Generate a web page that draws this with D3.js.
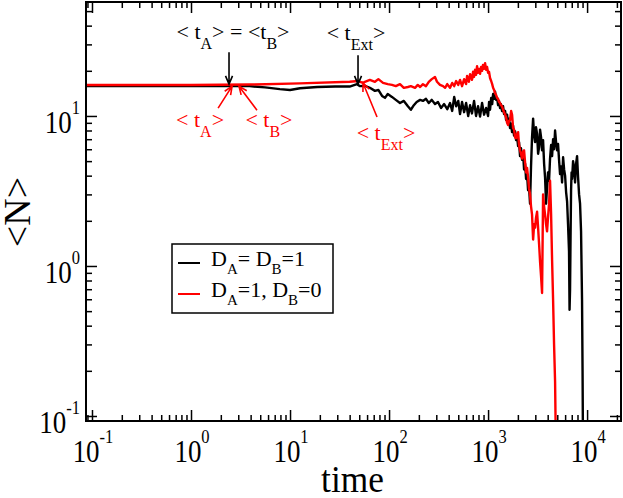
<!DOCTYPE html>
<html>
<head>
<meta charset="utf-8">
<script src="https://cdn.jsdelivr.net/npm/d3@7"></script>
<style>
html, body { margin: 0; padding: 0; background: #fff; overflow: hidden; }
</style>
</head>
<body>
<svg id="chart" width="623" height="498" font-family="Liberation Serif"></svg>
<script>
// series 1: D_A = D_B = 1 (black)
const timeBlack = [0.087, 1, 3.9, 5.6, 7.9, 10, 12.6, 18.8, 28.6, 40, 47.5, 51, 57, 64, 72, 78, 85, 91, 97,
  107, 117, 129, 141, 155, 166, 178, 190, 206, 220, 236, 252, 270, 291, 312, 335, 360, 387, 413, 434,
  455, 476, 500, 521, 546, 573, 600, 630, 658, 688, 722, 756, 792, 830, 870, 912, 955, 1000, 1024,
  1047, 1075, 1100, 1124, 1150, 1177, 1205, 1233, 1262, 1290, 1321, 1350, 1384, 1418, 1450, 1486,
  1520, 1556, 1592, 1630, 1667, 1710, 1747, 1790, 1830, 1875, 1918, 1963, 2010, 2055, 2104, 2150,
  2205, 2258, 2310, 2365, 2420, 2477, 2535, 2590, 2654, 2715, 2780, 2850, 2920, 2985, 3050, 3126,
  3200, 3275, 3350, 3430, 3510, 3593, 3680, 3763, 3850, 3941, 4030, 4130, 4226, 4330, 4430, 4536,
  4640, 4750, 4860, 4975, 5090, 5210, 5333, 5460, 5590, 5724, 5860, 5995, 6140, 6278, 6420, 6570,
  6650, 6730, 6810, 6890, 6970, 7050, 7220, 7390, 7560, 7740, 7920, 8110, 8300, 8490, 8690, 8890,
  9000, 9110];
const nBlack = [15.8, 15.8, 15.8, 15.5, 15.1, 14.9, 15.3, 15.6, 15.7, 15.7, 16.3, 15.8, 15.9, 15.4, 14.7, 14.9, 13.6, 13.2, 14.0,
  13.4, 12.8, 12.2, 12.6, 11.6, 11.0, 11.8, 12.4, 12.8, 12.6, 13.0, 12.2, 12.8, 12.0, 12.4, 11.3, 12.0, 11.1, 12.2, 10.8,
  13.4, 11.6, 12.6, 10.3, 12.4, 10.6, 12.2, 10.0, 11.8, 10.4, 12.6, 10.0, 11.6, 9.9, 12.2, 10.2, 11.3, 10.0, 12.4,
  11.0, 13.2, 12.0, 14.0, 13.0, 14.5, 12.8, 13.2, 11.8, 12.6, 11.3, 12.0, 10.8, 11.6, 10.3, 10.8,
  9.4, 10.2, 8.9, 9.6, 8.3, 8.9, 7.8, 8.6, 7.4, 7.9, 6.9, 7.3, 6.3, 6.7, 5.4, 6.1,
  5.1, 5.6, 4.4, 4.8, 3.8, 4.1, 3.2, 3.4, 2.6, 4.6, 7.2, 9.6, 7.4, 6.7, 8.4, 7.6,
  5.6, 6.2, 8.1, 7.2, 5.9, 6.9, 4.8, 3.9, 2.6, 3.3, 4.2, 3.7, 5.2, 6.4, 5.4, 7.0,
  6.0, 8.0, 6.7, 5.9, 6.5, 5.1, 4.1, 4.6, 3.6, 5.3, 4.4, 4.0, 3.1, 2.7, 1.9, 1.25,
  0.51, 0.7, 1.6, 3.2, 4.2, 3.8, 5.0, 4.5, 3.6, 4.8, 5.4, 3.9, 3.0, 2.6, 1.7, 0.6,
  0.2, 0.05];

// series 2: D_A = 1, D_B = 0 (red)
const timeRed = [0.087, 1, 3.9, 12.6, 40, 48.6, 54.6, 57, 64, 72, 78, 87, 97, 107, 117, 129, 141, 155,
  166, 183, 195, 206, 220, 236, 252, 270, 291, 305, 327, 351, 368, 387, 413, 434, 455, 476, 500, 521,
  546, 573, 600, 614, 640, 658, 688, 705, 722, 739, 756, 774, 792, 810, 830, 850, 870, 889, 912, 933,
  955, 977, 1000, 1022, 1047, 1075, 1100, 1124, 1150, 1177, 1205, 1233, 1262, 1290, 1321, 1350, 1384,
  1418, 1450, 1486, 1520, 1556, 1592, 1630, 1667, 1710, 1747, 1790, 1830, 1875, 1918, 1963, 2010,
  2055, 2104, 2150, 2205, 2258, 2310, 2365, 2420, 2477, 2535, 2590, 2654, 2715, 2780, 2850, 2920,
  2985, 3050, 3126, 3200, 3275, 3350, 3430, 3510, 3560, 3593, 3680, 3763, 3850, 3941, 4030, 4130,
  4226, 4330, 4430, 4536, 4640, 4750, 4860];
const nRed = [16.1, 16.1, 16.2, 16.5, 16.9, 17.1, 16.6, 16.9, 17.4, 16.9, 17.6, 16.6, 16.3, 16.1, 15.8, 16.3, 15.4, 15.6,
  15.8, 15.4, 16.1, 15.6, 16.3, 15.8, 16.9, 17.6, 18.2, 16.9, 16.1, 15.8, 15.4, 16.3, 15.4, 16.6, 15.8, 17.1, 16.1, 17.4,
  15.8, 17.6, 16.3, 18.5, 16.9, 19.0, 17.4, 19.7, 18.2, 20.3, 18.8, 21.5, 19.4, 20.6, 19.1, 21.2, 20.0, 21.9, 20.6, 22.5,
  20.3, 21.2, 19.4, 19.7, 17.9, 17.1, 16.3, 15.4, 14.9, 14.2, 13.8, 13.2, 13.0, 12.4, 12.2, 11.8, 11.6,
  11.0, 10.6, 10.2, 9.8, 9.0, 8.7, 9.3, 9.4, 10.8, 10.2, 8.3, 8.1, 7.2, 7.1, 7.6, 7.8,
  6.4, 5.9, 5.6, 5.2, 5.8, 5.9, 4.9, 4.2, 4.5, 3.9, 3.3, 3.0, 2.5, 2.2, 1.5, 1.9,
  1.8, 2.1, 2.3, 1.8, 1.4, 1.07, 0.85, 0.66, 1.6, 3.0, 2.5, 2.2, 1.9, 1.7, 2.1, 2.6,
  3.7, 2.2, 1.1, 0.59, 0.3, 0.17, 0.05];

const xTickExps = [-1, 0, 1, 2, 3, 4];
const yTickExps = [-1, 0, 1];
const xDomain = [0.087, 22000];
const yDomain = [0.0926, 57.5];

const FONT = 'Liberation Serif';
const svg = d3.select('#chart');
const plot = { left: 86, right: 621, top: 2, bottom: 421 };
const x = d3.scaleLog().domain(xDomain).range([plot.left, plot.right]);
const y = d3.scaleLog().domain(yDomain).range([plot.bottom, plot.top]);

function minorTicks(domain) {
    const out = [];
    const e0 = Math.floor(Math.log10(domain[0]));
    const e1 = Math.ceil(Math.log10(domain[1]));
    for (let e = e0; e <= e1; e++) {
        for (let k = 2; k < 10; k++) {
            const v = k * Math.pow(10, e);
            if (v >= domain[0] && v <= domain[1]) out.push(v);
        }
    }
    return out;
}
const xMajor = xTickExps.map(e => Math.pow(10, e));
const yMajor = yTickExps.map(e => Math.pow(10, e));

function tickAxis(axis, pos, vals, size) {
    svg.append('g')
        .attr('transform', pos)
        .call(axis.tickValues(vals).tickSize(-size).tickFormat(''))
        .call(g => g.select('.domain').remove())
        .call(g => g.selectAll('line').attr('stroke', '#000').attr('stroke-width', 1.5));
}
tickAxis(d3.axisBottom(x), `translate(0,${plot.bottom})`, minorTicks(xDomain), 6);
tickAxis(d3.axisBottom(x), `translate(0,${plot.bottom})`, xMajor, 11);
tickAxis(d3.axisTop(x), `translate(0,${plot.top})`, minorTicks(xDomain), 6);
tickAxis(d3.axisTop(x), `translate(0,${plot.top})`, xMajor, 11);
tickAxis(d3.axisLeft(y), `translate(${plot.left},0)`, minorTicks(yDomain), 6);
tickAxis(d3.axisLeft(y), `translate(${plot.left},0)`, yMajor, 11);
tickAxis(d3.axisRight(y), `translate(${plot.right},0)`, minorTicks(yDomain), 6);
tickAxis(d3.axisRight(y), `translate(${plot.right},0)`, yMajor, 11);

// curves
svg.append('clipPath').attr('id', 'clip')
    .append('rect')
    .attr('x', plot.left).attr('y', plot.top)
    .attr('width', plot.right - plot.left).attr('height', plot.bottom - plot.top);
const line = d3.line().x(d => x(d[0])).y(d => y(d[1]));
const curves = svg.append('g').attr('clip-path', 'url(#clip)');
curves.append('path')
    .attr('d', line(d3.zip(timeBlack, nBlack)))
    .attr('fill', 'none').attr('stroke', '#000').attr('stroke-width', 2.4)
    .attr('stroke-linejoin', 'round');
curves.append('path')
    .attr('d', line(d3.zip(timeRed, nRed)))
    .attr('fill', 'none').attr('stroke', '#ff0000').attr('stroke-width', 2.4)
    .attr('stroke-linejoin', 'round');

// frame
svg.append('rect')
    .attr('x', plot.left).attr('y', plot.top)
    .attr('width', plot.right - plot.left).attr('height', plot.bottom - plot.top)
    .attr('fill', 'none').attr('stroke', '#000').attr('stroke-width', 2);

// tick labels
function powLabel(px, py, exp, anchor) {
    const t = svg.append('text')
        .attr('transform', `translate(${px},${py}) scale(0.87,1)`)
        .attr('text-anchor', anchor)
        .attr('font-family', FONT)
        .attr('font-size', 31)
        .attr('fill', '#000');
    t.append('tspan').text('10');
    t.append('tspan').attr('dy', -19).attr('font-size', 19).text(exp);
}
xTickExps.forEach(e => powLabel(x(Math.pow(10, e)) + 1, plot.bottom + 41, e, 'middle'));
yTickExps.forEach(e => powLabel(plot.left - 6, y(Math.pow(10, e)) + 17, e, 'end'));

// axis titles
svg.append('text')
    .attr('transform', `translate(${(plot.left + plot.right) / 2 - 1},492) scale(0.93,1)`)
    .attr('font-family', FONT)
    .attr('text-anchor', 'middle').attr('font-size', 38).text('time');
svg.append('text')
    .attr('transform', 'translate(30,212) rotate(-90)')
    .attr('font-family', FONT)
    .attr('text-anchor', 'middle').attr('font-size', 38).text('<N>');

// annotations: tip in data units, tail/label as pixel offsets from the tip
const annotations = [
    { color: '#000', tip: [2.42, 16.3], tail: [0, -32], label: [4, -45],
      parts: [['< t', 0], ['A', 1], ['> = <t', 0], ['B', 1], ['>', 0]] },
    { color: '#ff0000', tip: [2.6, 15.8], tail: [-14, 22], label: [-32, 41],
      parts: [['< t', 0], ['A', 1], ['>', 0]] },
    { color: '#ff0000', tip: [3.05, 15.8], tail: [18, 24], label: [30, 41],
      parts: [['< t', 0], ['B', 1], ['>', 0]] },
    { color: '#000', tip: [48.6, 16.3], tail: [0, -29], label: [-2, -44],
      parts: [['< t', 0], ['Ext', 1], ['>', 0]] },
    { color: '#ff0000', tip: [54.6, 16.6], tail: [14, 34], label: [23, 57],
      parts: [['< t', 0], ['Ext', 1], ['>', 0]] },
];
const ann = svg.append('g');
annotations.forEach(a => {
    const tx = x(a.tip[0]), ty = y(a.tip[1]);
    const sx = tx + a.tail[0], sy = ty + a.tail[1];
    const ang = Math.atan2(sy - ty, sx - tx);
    const hl = 9, spread = 0.4;
    const h1 = [tx + hl * Math.cos(ang + spread), ty + hl * Math.sin(ang + spread)];
    const h2 = [tx + hl * Math.cos(ang - spread), ty + hl * Math.sin(ang - spread)];
    ann.append('path')
        .attr('d', `M${sx},${sy}L${tx},${ty}M${h1[0]},${h1[1]}L${tx},${ty}L${h2[0]},${h2[1]}`)
        .attr('fill', 'none').attr('stroke', a.color).attr('stroke-width', 1.6);
    const t = ann.append('text')
        .attr('x', tx + a.label[0]).attr('y', ty + a.label[1])
        .attr('font-family', FONT)
        .attr('text-anchor', 'middle').attr('fill', a.color).attr('font-size', 22);
    let sub = false;
    a.parts.forEach(([s, isSub]) => {
        const sp = t.append('tspan').text(s);
        if (isSub && !sub) sp.attr('dy', 10);
        if (!isSub && sub) sp.attr('dy', -10);
        if (isSub) sp.attr('font-size', 16);
        sub = !!isSub;
    });
});

// legend
const legendRows = [
    { color: '#000', parts: [['D', 0], ['A', 1], ['= D', 0], ['B', 1], ['=1', 0]] },
    { color: '#ff0000', parts: [['D', 0], ['A', 1], ['=1, D', 0], ['B', 1], ['=0', 0]] },
];
const legend = svg.append('g').attr('transform', 'translate(172,244)');
legend.append('rect').attr('width', 161).attr('height', 69)
    .attr('fill', '#fff').attr('stroke', '#000').attr('stroke-width', 1.5);
legendRows.forEach((r, i) => {
    const ry = 19 + i * 31;
    legend.append('line').attr('x1', 6).attr('x2', 28).attr('y1', ry).attr('y2', ry)
        .attr('stroke', r.color).attr('stroke-width', 2);
    const t = legend.append('text').attr('x', 39).attr('y', ry + 3)
        .attr('font-family', FONT)
        .attr('font-size', 22).attr('fill', '#000');
    let sub = false;
    r.parts.forEach(([s, isSub]) => {
        const sp = t.append('tspan').text(s);
        if (isSub && !sub) sp.attr('dy', 8);
        if (!isSub && sub) sp.attr('dy', -8);
        if (isSub) sp.attr('font-size', 15);
        sub = !!isSub;
    });
});
</script>
</body>
</html>
